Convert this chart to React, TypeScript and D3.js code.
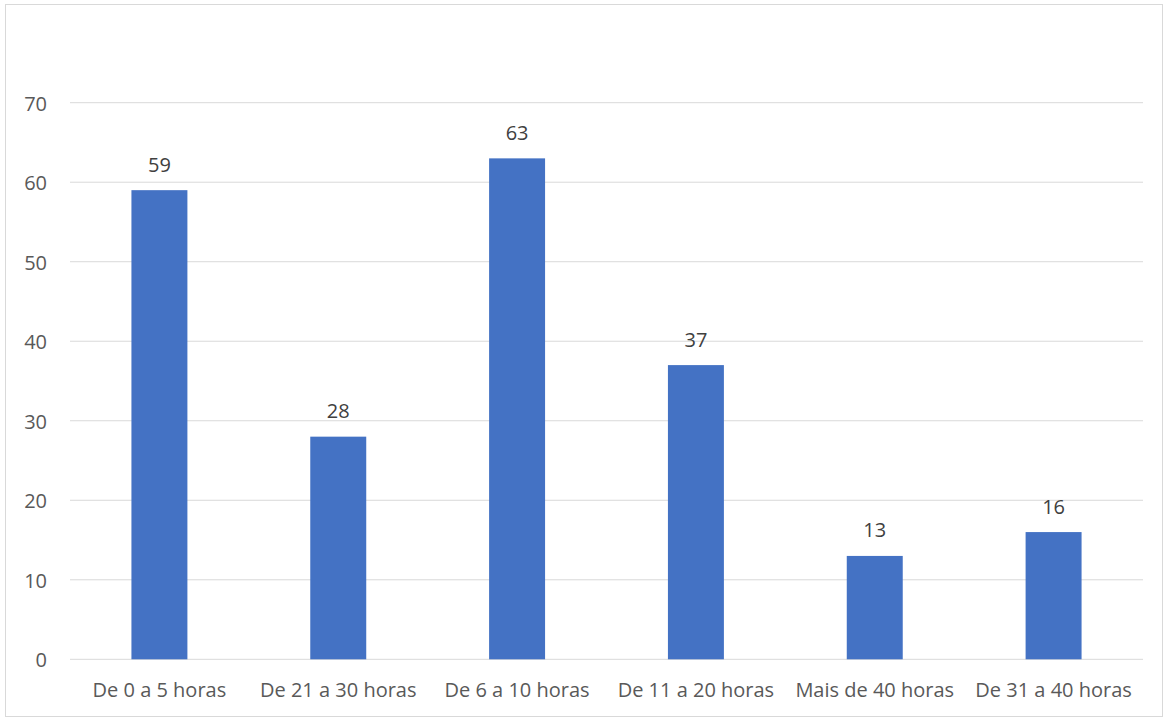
import React from "react";
import * as d3 from "d3";

const categories = ["De 0 a 5 horas", "De 21 a 30 horas", "De 6 a 10 horas", "De 11 a 20 horas", "Mais de 40 horas", "De 31 a 40 horas"];
const values = [59, 28, 63, 37, 13, 16];
const yTicks = [0, 10, 20, 30, 40, 50, 60, 70];

const W = 1167, H = 718;
const plot = { left: 70, right: 1143, top: 102.7, bottom: 659.3 };
const FONT = "'Open Sans', 'Liberation Sans', sans-serif";
const FS = 20;

export default function App() {
  const x = d3.scaleBand<string>().domain(categories).range([plot.left, plot.right]).paddingInner(0.687).paddingOuter(0.3435);
  const y = d3.scaleLinear().domain([0, 70]).range([plot.bottom, plot.top]);
  return (
    <svg width={W} height={H} style={{ position: "absolute", left: 0, top: 0, background: "#fff" }}>
      <rect x={5.5} y={4.5} width={1157} height={712} fill="#fff" stroke="#d9d9d9" strokeWidth={1} />
      {yTicks.map((t) => (
        <g key={t}>
          <line x1={plot.left} x2={plot.right} y1={y(t)} y2={y(t)} stroke="#d9d9d9" strokeWidth={1} />
          <text x={47} y={y(t) + 1} dy="0.35em" textAnchor="end" fontFamily={FONT} fontSize={FS} fill="#595959">{t}</text>
        </g>
      ))}
      {categories.map((c, i) => (
        <g key={c}>
          <rect x={x(c)} y={y(values[i])} width={x.bandwidth()} height={y(0) - y(values[i])} fill="#4472c4" />
          <text x={(x(c) as number) + x.bandwidth() / 2} y={y(values[i]) - 25.5} dy="0.35em" textAnchor="middle" fontFamily={FONT} fontSize={FS} fill="#404040">{values[i]}</text>
          <text x={(x(c) as number) + x.bandwidth() / 2} y={690} dy="0.35em" textAnchor="middle" fontFamily={FONT} fontSize={FS} fill="#595959">{c}</text>
        </g>
      ))}
    </svg>
  );
}
